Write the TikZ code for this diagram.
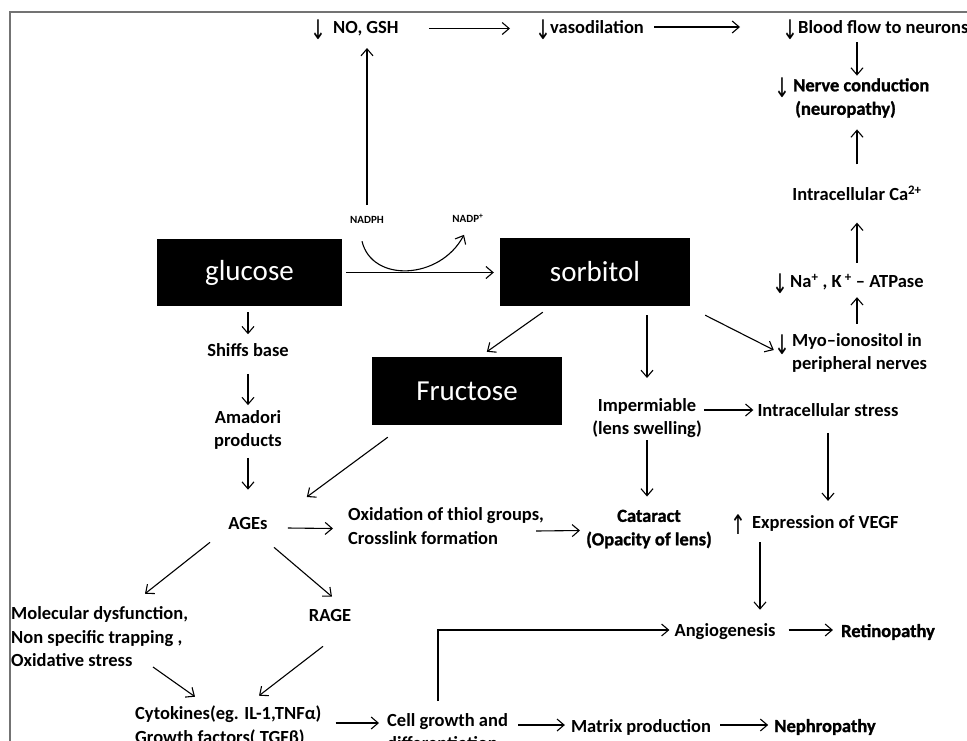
\documentclass[tikz,border=0pt]{standalone}
\usepackage{graphicx}
\usepackage{fontspec}
\setmainfont{Carlito}
\newfontfamily\symfont{DejaVu Sans}
\newfontfamily\heavyfont{Carlito}[FakeBold=1.2]
\usetikzlibrary{arrows.meta,calc}
\newcommand\dnarr{\makebox[10pt]{\smash{\raisebox{-6pt}{\scalebox{0.95}[1.35]{\symfont\mdseries\fontsize{20}{20}\selectfont ↓}}}}}
\newcommand\uparr{\makebox[10pt]{\smash{\raisebox{-6pt}{\scalebox{0.95}[1.35]{\symfont\mdseries\fontsize{20}{20}\selectfont ↑}}}}}
\newcommand\hv[1]{{\heavyfont\bfseries #1}}
\tikzset{
  arr/.style={draw, line width=1.1pt, -{Straight Barb[length=7pt,width=12pt]}},
  lbl/.style={inner sep=0pt, font=\fontsize{18.5}{23.5}\selectfont\bfseries},
  smalllbl/.style={inner sep=0pt, font=\fontsize{11}{13}\selectfont\bfseries},
  blackbox/.style={fill=black, text=white, inner sep=0pt, font=\fontsize{29}{34}\selectfont},
  frame/.style={draw=black!55, line width=1.2pt}
}
\begin{document}
\begin{tikzpicture}[x=1pt,y=-1pt]
\useasboundingbox (0,0) rectangle (967,740);
\clip (0,0) rectangle (967,740);
\draw[frame] (10,12) rectangle (1100,900);

% top row
\node[lbl, anchor=west] (nogsh) at (313,28.5) {\dnarr\hspace{10pt}NO, GSH};
\node[lbl, anchor=west] (vaso) at (538,27) {\dnarr\hspace{2pt}vasodilation};
\node[lbl, anchor=west] (blood) at (785,27) {\dnarr\hspace{3pt}Blood flow to neurons};

% right column
\node[lbl, anchor=west, align=left] (nerve) at (777,98) {\dnarr\hspace{6pt}\hv{Nerve conduction}\\\hspace*{18pt}\hv{(neuropathy)}};
\node[lbl] (ca) at (857,193) {Intracellular Ca\textsuperscript{2+}};
\node[lbl, anchor=west] (atp) at (775,282) {\dnarr\hspace{5pt}Na\textsuperscript{+} , K\,\textsuperscript{+} – ATPase};
\node[lbl, anchor=west, align=left] (myo) at (792,353) {Myo–ionositol in\\peripheral nerves};
\node[lbl] (myoarr) at (782,348) {\dnarr};

% NADPH
\node[smalllbl] (nadph) at (367,220) {NADPH};
\node[smalllbl] (nadpp) at (468,218) {NADP\textsuperscript{+}};

% boxes
\node[blackbox, minimum width=185pt, minimum height=67pt] (glucose) at (249.5,272.5) {glucose};
\node[blackbox, minimum width=190pt, minimum height=68pt] (sorbitol) at (595,272) {sorbitol};
\node[blackbox, minimum width=190pt, minimum height=68pt] (fructose) at (467,391) {Fructose};

% left column
\node[lbl] (shiffs) at (248,350) {Shiffs base};
\node[lbl, align=center] (amadori) at (248,430) {Amadori\\products};
\node[lbl] (ages) at (248,523) {AGEs};
\node[lbl, anchor=west, align=left] (oxid) at (348,526) {Oxidation of thiol groups,\\Crosslink formation};

% middle
\node[lbl, align=center] (imp) at (647,418) {Impermiable\\(lens swelling)};
\node[lbl, align=center] (cataract) at (649,529) {\hv{Cataract}\\\hv{(Opacity of lens)}};
\node[lbl] (stress) at (828,410) {Intracellular stress};
\node[lbl, anchor=west] (vegf) at (733,523) {\uparr\hspace{9pt}Expression of VEGF};
\node[lbl] (angio) at (725,632) {Angiogenesis};
\node[lbl] (retino) at (888,632) {\hv{Retinopathy}};

% bottom
\node[lbl, anchor=west, align=left] (molec) at (11,637) {Molecular dysfunction,\\Non specific trapping ,\\Oxidative stress};
\node[lbl] (rage) at (330,615) {RAGE};
\node[lbl, anchor=west, align=left] (cyto) at (135,726) {Cytokines(eg. IL-1,TNFα)\\Growth factors( TGFβ)};
\node[lbl, anchor=west, align=left] (cell) at (387,731.6) {Cell growth and\\differentiation};
\node[lbl] (matrix) at (641,727) {Matrix production};
\node[lbl] (nephro) at (825,727) {\hv{Nephropathy}};

% connectors top
\draw[arr, shorten <=30pt, shorten >=28pt] (nogsh.east) -- (vaso.west |- nogsh.east);
\draw[arr, shorten <=10pt, shorten >=45pt] (vaso.east) -- (blood.west |- vaso.east);
\draw[arr, shorten <=8.5pt, shorten >=2.5pt] (blood.south -| ca.north) -- (nerve.north -| ca.north);
\draw[arr, shorten <=21pt, shorten >=11.5pt] (ca.north) -- (nerve.south -| ca.north);
\draw[arr, shorten <=11pt, shorten >=22pt] (atp.north -| ca.north) -- (ca.south);
\draw[arr, shorten <=9.5pt, shorten >=7pt] (myo.north -| ca.north) -- (atp.south -| ca.north);

% NADPH
\draw[arr, shorten <=11pt, shorten >=12pt] (nadph.north) -- (nadph.north |- nogsh.south);
\draw[arr] ($(nadph.south)+(-5,17.5)$) .. controls (372,283) and (440,280) .. ($(nadpp.south)+(-4,12.5)$);

% boxes
\draw[arr, shorten <=4pt, shorten >=6pt] (glucose.east) -- (sorbitol.west |- glucose.east);
\draw[arr] ($(sorbitol.south west)+(43,6)$) -- ($(fructose.north west)+(115,-5)$);
\draw[arr, shorten <=9pt, shorten >=20pt] (sorbitol.south -| imp.north) -- (imp.north);
\draw[arr] ($(sorbitol.south east)+(15,9)$) -- ($(myoarr.west)+(-3,2)$);

% left chain
\draw[arr, shorten <=6pt, shorten >=9pt] (glucose.south -| shiffs.north) -- (shiffs.north);
\draw[arr, shorten <=17pt, shorten >=5pt] (shiffs.south) -- (amadori.north);
\draw[arr, shorten <=8pt, shorten >=27pt] (amadori.south) -- (ages.north);
\draw[arr] ($(fructose.south west)+(16,12)$) -- ($(ages.east)+(39,-26)$);
\draw[arr] ($(ages.east)+(20,5)$) -- ($(oxid.west)+(-15,2.5)$);
\draw[arr] ($(oxid.east)+(-8,5)$) -- ($(cataract.west)+(-6,1.5)$);

% middle
\draw[arr, shorten <=2pt, shorten >=13pt] (imp.south) -- (imp.south |- cataract.north);
\draw[arr] ($(imp.east)+(2,-8)$) -- ($(stress.west)+(-4,0)$);
\draw[arr, shorten <=16pt, shorten >=14pt] (stress.south) -- (stress.south |- vegf.north);
\draw[arr, shorten >=14pt] ($(vegf.south west)+(27,11)$) coordinate (vtail) -- (vtail |- angio.north);
\draw[arr] ($(angio.east)+(13,-2)$) -- ($(retino.west)+(-8,-2)$);

% bottom
\draw[arr] ($(ages.south)+(-38,13)$) -- ($(molec.north west)+(134,-13)$);
\draw[arr] ($(ages.south)+(26,18)$) -- ($(rage.north)+(2,-12)$);
\draw[arr] ($(molec.west)+(142,30)$) -- ($(cyto.north west)+(60,-9)$);
\draw[arr] ($(rage.south)+(-7,25)$) -- ($(cyto.north west)+(124,-10)$);
\draw[arr] ($(cyto.east)+(14,-3)$) -- ($(cell.west)+(-8,-8.6)$);
\draw[arr] ($(cell.north west)+(51,-12)$) |- ($(angio.west)+(-5,-2)$);
\draw[arr] ($(cell.east)+(10,-6.6)$) -- ($(matrix.west)+(-6,-2)$);
\draw[arr] ($(matrix.east)+(9,-2)$) -- ($(nephro.west)+(-6,-2)$);
\end{tikzpicture}
\end{document}
